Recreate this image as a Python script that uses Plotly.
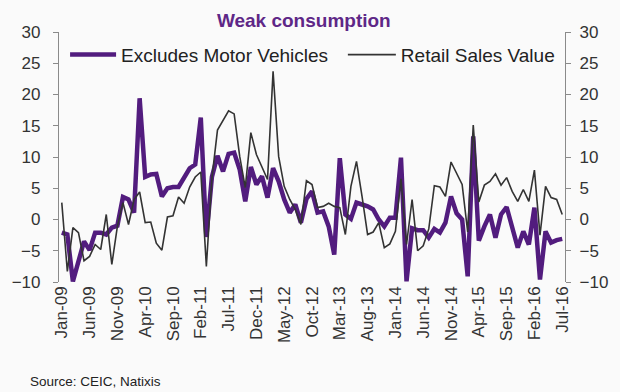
import plotly.graph_objects as go

months = ["Jan", "Feb", "Mar", "Apr", "May", "Jun", "Jul", "Aug", "Sep", "Oct", "Nov", "Dec"]
dates = [f"{months[m]}-{y:02d}" for y in range(9, 17) for m in range(12)][:91]  # Jan-09 .. Jul-16

excl_motor = [
    -2.1, -2.4, -9.9, -6.9, -3.5, -4.9, -2.1, -2.1, -2.4, -1.3,
    -1.0, 3.6, 3.2, 1.1, 19.4, 6.8, 7.2, 7.3, 3.7, 5.0,
    5.2, 5.2, 6.6, 8.2, 8.8, 16.3, -2.8, 6.8, 10.2, 7.7,
    10.5, 10.7, 8.0, 2.9, 8.4, 5.6, 6.9, 3.5, 8.2, 6.1,
    3.2, 1.1, 2.4, -0.5, 3.3, 4.5, 1.1, 1.3, -1.1, -5.6,
    9.8, 0.8, 0.1, 2.7, 2.4, 2.1, 1.6, 0.0, -1.1, 0.3,
    0.3, 9.9, -9.9, -1.4, -1.7, -1.7, -2.9, -1.5, -2.1, -0.5,
    3.7, 1.0, 0.0, -9.1, 13.3, -3.4, -1.1, 0.8, -2.9, 0.8,
    2.0, -1.5, -4.5, -1.9, -4.0, 1.9, -9.6, -1.9, -3.7, -3.3,
    -3.1,
]

retail_sales = [
    2.7, -8.3, -1.3, -2.1, -6.6, -5.9, -4.0, -4.8, 0.8, -7.2,
    -1.1, 2.7, -0.8, 3.2, 4.4, -0.5, -0.4, -3.8, -4.9, 0.4,
    0.6, 3.6, 2.6, 5.2, 6.8, 7.6, -7.5, 6.6, 14.3, 15.8,
    17.4, 16.9, 10.1, 5.1, 13.9, 10.4, 8.5, 6.4, 23.7, 10.1,
    5.3, 3.2, 1.6, -0.8, 6.2, 5.6, 1.9, 2.1, 2.6, 2.1,
    1.9, -2.4, 5.3, 9.3, 3.7, -2.4, -2.0, -0.5, -4.5, -3.9,
    -1.9, 6.5, -4.0, 3.2, -5.0, -4.2, -1.5, 5.4, 5.2, 3.7,
    9.2, 7.4, 5.6, -2.0, 15.1, 2.8, 5.5, 6.1, 7.3, 5.5,
    6.7, 4.5, 2.9, 4.8, 2.9, 7.9, -2.5, 5.3, 3.5, 3.2,
    0.8,
]

y_ticks = [-10, -5, 0, 5, 10, 15, 20, 25, 30]
label_step = 5

idx = list(range(len(dates)))
label_idx = idx[::label_step]
label_txt = [dates[i] for i in label_idx]
bound_idx = [i + 0.5 for i in idx[label_step - 1::label_step]]

FONT = "Liberation Sans, Arial, sans-serif"
AXIS = "#8a8a8a"
TXT = "#333333"
BG = "#fafafa"
YR = [-10, 30]
XR = [-0.5, len(dates) - 0.5]

fig = go.Figure()
fig.add_trace(go.Scatter(
    x=idx, y=excl_motor, mode="lines", name="Excludes Motor Vehicles",
    line=dict(color="#521c7e", width=4.5), hovertext=dates, legend="legend",
))
fig.add_trace(go.Scatter(
    x=idx, y=retail_sales, mode="lines", name="Retail Sales Value",
    line=dict(color="#333333", width=1.6), yaxis="y2", hovertext=dates,
    legend="legend2",
))

leg_common = dict(orientation="h", xanchor="left", y=0.985, yanchor="top",
                  bgcolor="rgba(0,0,0,0)", font=dict(size=19, color="#222222"))

fig.update_layout(
    width=620, height=392,
    margin=dict(l=52, r=52, t=32, b=110),
    paper_bgcolor=BG, plot_bgcolor=BG,
    font=dict(family=FONT, color=TXT, size=17),
    title=dict(text="<b>Weak consumption</b>", x=0.49, xanchor="center",
               y=1 - 20 / 392, yanchor="middle", yref="container",
               font=dict(family=FONT, size=19, color="#5e2787")),
    showlegend=True,
    legend=dict(x=0.012, itemwidth=46, **leg_common),
    legend2=dict(x=0.561, itemwidth=48, **leg_common),
    xaxis=dict(range=XR, tickmode="array", tickvals=label_idx, ticktext=label_txt,
               tickangle=-90, showgrid=False, zeroline=False, showline=False,
               ticks="", tickfont=dict(size=17, color=TXT)),
    xaxis2=dict(range=XR, overlaying="x", anchor="free", position=0.25,
                showgrid=False, zeroline=False, showline=True, linecolor=AXIS,
                linewidth=1.5, tickmode="array", tickvals=bound_idx, ticks="outside",
                ticklen=4, tickcolor=AXIS, showticklabels=False),
    yaxis=dict(range=YR, tickmode="array", tickvals=y_ticks, showgrid=False,
               zeroline=False, showline=True, linecolor=AXIS, linewidth=1.2,
               ticks="outside", ticklen=5, tickcolor=AXIS, ticklabelstandoff=9,
               tickfont=dict(size=17, color=TXT)),
    yaxis2=dict(range=YR, overlaying="y", side="right", tickmode="array",
                tickvals=y_ticks, showgrid=False, zeroline=False, showline=True,
                linecolor=AXIS, linewidth=1.2, ticks="outside", ticklen=5,
                tickcolor=AXIS, ticklabelstandoff=5,
                tickfont=dict(size=17, color=TXT)),
    annotations=[dict(text="Source: CEIC, Natixis", xref="paper", yref="paper",
                      x=-32 / 516, y=-99 / 250, xanchor="left",
                      yanchor="middle", showarrow=False,
                      font=dict(size=13.5, color="#222222"))],
)

fig.write_html("out.html", config={"displayModeBar": False},
               post_script="document.body.style.margin='0';document.body.style.background='#fafafa';")
